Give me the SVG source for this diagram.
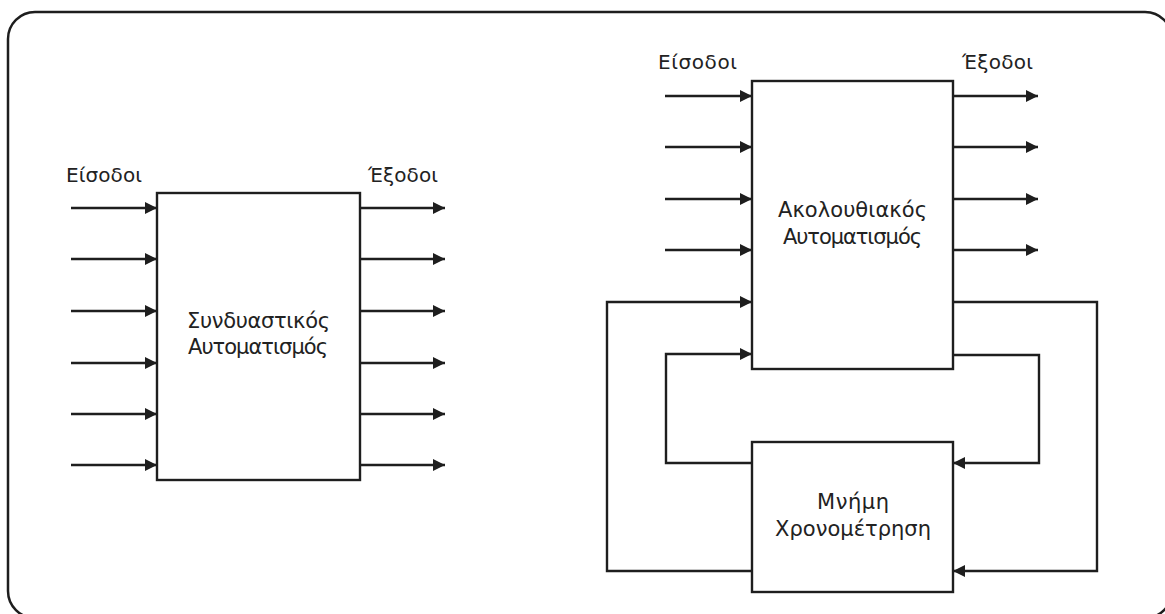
<svg xmlns="http://www.w3.org/2000/svg" width="1165" height="614" viewBox="0 0 1165 614">
<style>
.box{fill:#fff;stroke:#1e1e1e;stroke-width:2.4}
.frame{fill:none;stroke:#1e1e1e;stroke-width:2.5}
.c{fill:none;stroke:#1e1e1e;stroke-width:2.4}
.a{marker-end:url(#arr)}
text{font-family:"DejaVu Sans","Liberation Sans",sans-serif;fill:#222}
.lbl{font-size:20px}
.mid{font-size:21px;text-anchor:middle}
</style>
<defs>
<marker id="arr" markerUnits="userSpaceOnUse" markerWidth="13" markerHeight="13" refX="12" refY="6.5" orient="auto">
<path d="M0,0.5 L12,6.5 L0,12.5 z" fill="#1e1e1e"/>
</marker>
</defs>
<rect width="1165" height="614" fill="#fff"/>
<rect class="frame" x="8" y="12" width="1164" height="606" rx="27" ry="27"/>
<g id="connectors">
<path class="c a" d="M71,208 H157"/>
<path class="c a" d="M71,259 H157"/>
<path class="c a" d="M71,311 H157"/>
<path class="c a" d="M71,363 H157"/>
<path class="c a" d="M71,414 H157"/>
<path class="c a" d="M71,465 H157"/>
<path class="c a" d="M360,208 H445"/>
<path class="c a" d="M360,259 H445"/>
<path class="c a" d="M360,311 H445"/>
<path class="c a" d="M360,363 H445"/>
<path class="c a" d="M360,414 H445"/>
<path class="c a" d="M360,465 H445"/>
<path class="c a" d="M665,96 H752"/>
<path class="c a" d="M665,147 H752"/>
<path class="c a" d="M665,199 H752"/>
<path class="c a" d="M665,250 H752"/>
<path class="c a" d="M953,96 H1038"/>
<path class="c a" d="M953,147 H1038"/>
<path class="c a" d="M953,199 H1038"/>
<path class="c a" d="M953,250 H1038"/>
<path class="c a" d="M953,302 H1097 V571 H953"/>
<path class="c a" d="M752,571 H607 V302 H752"/>
<path class="c a" d="M953,355 H1039 V463 H953"/>
<path class="c a" d="M752,463 H666 V354 H752"/>
</g>
<g id="combinational">
<rect class="box" x="157" y="193" width="203" height="287"/>
<text class="mid" x="258.5" y="328" textLength="143">Συνδυαστικός</text>
<text class="mid" x="258" y="354" textLength="140">Αυτοματισμός</text>
</g>
<g id="left-labels">
<text class="lbl" x="66" y="182" textLength="76">Είσοδοι</text>
<text class="lbl" x="368" y="182" textLength="70">Έξοδοι</text>
</g>
<g id="sequential">
<rect class="box" x="752" y="81" width="201" height="288"/>
<text class="mid" x="852.5" y="217" textLength="149">Ακολουθιακός</text>
<text class="mid" x="852.5" y="244" textLength="139">Αυτοματισμός</text>
</g>
<g id="memory">
<rect class="box" x="752" y="442" width="201" height="150"/>
<text class="mid" x="853" y="509" textLength="72">Μνήμη</text>
<text class="mid" x="853" y="536" textLength="156">Χρονομέτρηση</text>
</g>
<g id="right-labels">
<text class="lbl" x="658" y="69" textLength="79">Είσοδοι</text>
<text class="lbl" x="962" y="69" textLength="71">Έξοδοι</text>
</g>
</svg>
